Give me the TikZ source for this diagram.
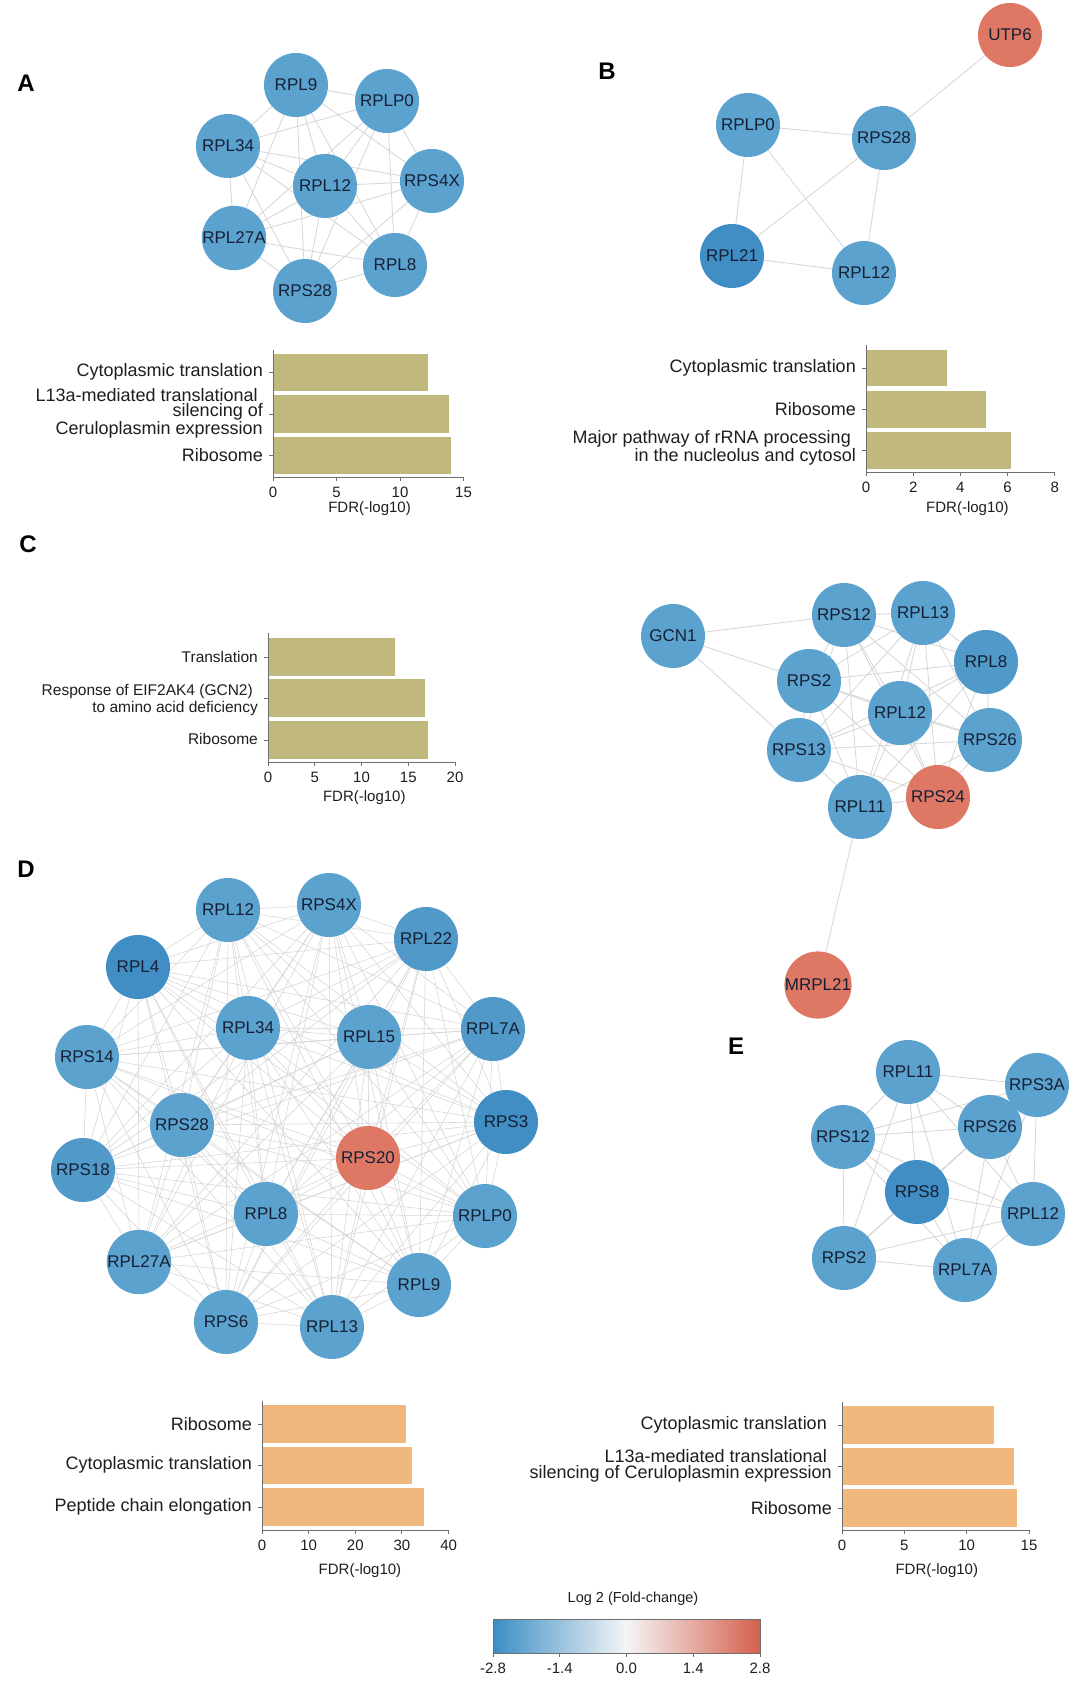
\documentclass[tikz,border=0pt]{standalone}
\usepackage{fontspec}
\setmainfont{Liberation Sans}
\usetikzlibrary{backgrounds}
\definecolor{geneblue}{RGB}{92,162,206}
\definecolor{genemid}{RGB}{80,153,201}
\definecolor{genedark}{RGB}{64,142,195}
\definecolor{genered}{RGB}{222,120,100}
\definecolor{genetext}{RGB}{22,32,52}
\definecolor{edgegray}{RGB}{214,214,214}
\definecolor{axisgray}{RGB}{110,110,110}
\definecolor{khaki}{RGB}{193,184,126}
\definecolor{peach}{RGB}{240,184,124}
\definecolor{cbblue}{RGB}{58,142,198}
\definecolor{cbred}{RGB}{214,96,77}
\definecolor{labgray}{RGB}{30,30,30}

\begin{document}
\begin{tikzpicture}[x=1pt, y=-1pt,
  gene/.style={circle, fill=geneblue, minimum size=64pt, inner sep=0pt, text=genetext, font=\fontsize{17}{17}\selectfont},
  mid/.style={fill=genemid}, dark/.style={fill=genedark}, up/.style={fill=genered},
  edge/.style={draw=edgegray, line width=0.8pt},
  thinedge/.style={draw=edgegray, line width=0.55pt},
  axis/.style={draw=axisgray, line width=1pt},
  lab/.style={font=\fontsize{18}{15.5}\selectfont, text=labgray, align=right, anchor=east, inner sep=0pt, xshift=-10pt},
  smalllab/.style={lab, font=\fontsize{15.5}{16.5}\selectfont},
  ticklab/.style={font=\fontsize{15}{15}\selectfont, text=labgray, inner sep=0pt},
  letter/.style={font=\fontsize{24}{24}\bfseries\selectfont}]

\begin{scope}[on background layer]
  \fill[white] (0,0) rectangle (1080,1689);
\end{scope}
\useasboundingbox (0,0) rectangle (1080,1689);

% panel letters
\node[letter] (lA) at (26,83) {A};
\node[letter] (lB) at (607,71) {B};
\node[letter] (lC) at (28,544) {C};
\node[letter] (lD) at (26,869) {D};
\node[letter] (lE) at (736,1046) {E};

% A network
\node[gene] (A1) at (296,85) {RPL9};
\node[gene] (A2) at (387,101) {RPLP0};
\node[gene] (A3) at (228,146) {RPL34};
\node[gene] (A4) at (325,186) {RPL12};
\node[gene] (A5) at (432,181) {RPS4X};
\node[gene] (A6) at (234,238) {RPL27A};
\node[gene] (A7) at (395,265) {RPL8};
\node[gene] (A8) at (305,291) {RPS28};
\begin{scope}[on background layer]
  \foreach \i [evaluate=\i as \k using int(\i+1)] in {1,...,7}
    \foreach \j in {\k,...,8}
      \draw[edge] (A\i) -- (A\j);
\end{scope}

% A bars
\begin{scope}[shift={(273,0)}, x=12.7pt]
  \fill[khaki] (0,354) rectangle (12.18,391);
  \fill[khaki] (0,395) rectangle (13.84,433);
  \fill[khaki] (0,437) rectangle (14.0,474);
  \draw[axis] (0,350) -- (0,477) -- (15,477);
  \foreach \t in {0,5,10,15}
    \draw[axis] (\t,477) -- (\t,481) node[ticklab, below=6pt] (ta\t) {\t};
  \foreach \y in {372,414,455}
    \draw[axis] (0,\y) -- ++(-4pt,0);
  \node[lab] (la1) at (0,372) {Cytoplasmic translation};
  \node[lab] (la2) at (0,413) {L13a-mediated translational\hspace*{5pt}\\silencing of\hspace*{5pt}\\Ceruloplasmin expression};
  \node[lab] (la3) at (0,455) {Ribosome};
  \node[ticklab] (fa) at (7.6,509) {FDR(-log10)};
\end{scope}

% B network
\node[gene, up] (B1) at (1010,35) {UTP6};
\node[gene] (B2) at (748,125) {RPLP0};
\node[gene] (B3) at (884,138) {RPS28};
\node[gene, dark] (B4) at (732,256) {RPL21};
\node[gene] (B5) at (864,273) {RPL12};
\begin{scope}[on background layer]
  \foreach \u/\v in {2/3,2/4,2/5,3/4,3/5,4/5,3/1}
    \draw[edge] (B\u) -- (B\v);
\end{scope}

% B bars
\begin{scope}[shift={(866,0)}, x=23.6pt]
  \fill[khaki] (0,350) rectangle (3.44,386);
  \fill[khaki] (0,391) rectangle (5.1,428);
  \fill[khaki] (0,432) rectangle (6.15,469);
  \draw[axis] (0,345) -- (0,472) -- (8,472);
  \foreach \t in {0,2,4,6,8}
    \draw[axis] (\t,472) -- (\t,476) node[ticklab, below=6pt] (tb\t) {\t};
  \foreach \y in {368,409,450}
    \draw[axis] (0,\y) -- ++(-4pt,0);
  \node[lab] (lb1) at (0,368) {Cytoplasmic translation};
  \node[lab] (lb2) at (0,409) {Ribosome};
  \node[lab] (lb3) at (0,448) {Major pathway of rRNA processing\hspace*{5pt}\\in the nucleolus and cytosol};
  \node[ticklab] (fb) at (4.3,509) {FDR(-log10)};
\end{scope}

% C bars
\begin{scope}[shift={(268,0)}, x=9.35pt]
  \fill[khaki] (0,638) rectangle (13.6,676);
  \fill[khaki] (0,679) rectangle (16.8,717);
  \fill[khaki] (0,721) rectangle (17.1,759);
  \draw[axis] (0,633) -- (0,762) -- (20,762);
  \foreach \t in {0,5,10,15,20}
    \draw[axis] (\t,762) -- (\t,766) node[ticklab, below=6pt] (tc\t) {\t};
  \foreach \y in {657,698,740}
    \draw[axis] (0,\y) -- ++(-4pt,0);
  \node[smalllab] (lc1) at (0,657) {Translation};
  \node[smalllab] (lc2) at (0,700) {Response of EIF2AK4 (GCN2)\hspace*{5pt}\\to amino acid deficiency};
  \node[smalllab] (lc3) at (0,739) {Ribosome};
  \node[ticklab] (fc) at (10.3,798) {FDR(-log10)};
\end{scope}

% C network
\node[gene] (C1) at (673,636) {GCN1};
\node[gene] (C2) at (844,615) {RPS12};
\node[gene] (C3) at (923,613) {RPL13};
\node[gene, mid] (C4) at (986,662) {RPL8};
\node[gene] (C5) at (809,681) {RPS2};
\node[gene] (C6) at (900,713) {RPL12};
\node[gene] (C7) at (990,740) {RPS26};
\node[gene] (C8) at (799,750) {RPS13};
\node[gene, up] (C9) at (938,797) {RPS24};
\node[gene] (C10) at (860,807) {RPL11};
\node[gene, up] (C11) at (818,985) {MRPL21};
\begin{scope}[on background layer]
  \foreach \i [evaluate=\i as \k using int(\i+1)] in {2,...,9}
    \foreach \j in {\k,...,10}
      \draw[edge] (C\i) -- (C\j);
  \foreach \u/\v in {1/2,1/5,1/8,10/11}
    \draw[edge] (C\u) -- (C\v);
\end{scope}

% D network
\node[gene] (D1) at (228,910) {RPL12};
\node[gene] (D2) at (329,905) {RPS4X};
\node[gene, mid] (D3) at (426,939) {RPL22};
\node[gene, dark] (D4) at (138,967) {RPL4};
\node[gene] (D5) at (248,1028) {RPL34};
\node[gene] (D6) at (369,1037) {RPL15};
\node[gene, mid] (D7) at (493,1029) {RPL7A};
\node[gene] (D8) at (87,1057) {RPS14};
\node[gene] (D9) at (182,1125) {RPS28};
\node[gene, dark] (D10) at (506,1122) {RPS3};
\node[gene, up] (D11) at (368,1158) {RPS20};
\node[gene, mid] (D12) at (83,1170) {RPS18};
\node[gene] (D13) at (266,1214) {RPL8};
\node[gene] (D14) at (485,1216) {RPLP0};
\node[gene] (D15) at (139,1262) {RPL27A};
\node[gene] (D16) at (419,1285) {RPL9};
\node[gene] (D17) at (226,1322) {RPS6};
\node[gene] (D18) at (332,1327) {RPL13};
\begin{scope}[on background layer]
  \foreach \i [evaluate=\i as \k using int(\i+1)] in {1,...,17}
    \foreach \j in {\k,...,18}
      \draw[thinedge] (D\i) -- (D\j);
\end{scope}

% E network
\node[gene] (E1) at (908,1072) {RPL11};
\node[gene] (E2) at (1037,1085) {RPS3A};
\node[gene] (E3) at (843,1137) {RPS12};
\node[gene] (E4) at (990,1127) {RPS26};
\node[gene, dark] (E5) at (917,1192) {RPS8};
\node[gene] (E6) at (1033,1214) {RPL12};
\node[gene] (E7) at (844,1258) {RPS2};
\node[gene] (E8) at (965,1270) {RPL7A};
\begin{scope}[on background layer]
  \foreach \i [evaluate=\i as \k using int(\i+1)] in {1,...,7}
    \foreach \j in {\k,...,8}
      \draw[edge] (E\i) -- (E\j);
\end{scope}

% D bars
\begin{scope}[shift={(262,0)}, x=4.665pt]
  \fill[peach] (0,1405) rectangle (30.95,1443);
  \fill[peach] (0,1447) rectangle (32.1,1484);
  \fill[peach] (0,1488) rectangle (34.8,1526);
  \draw[axis] (0,1401) -- (0,1530) -- (40,1530);
  \foreach \t in {0,10,20,30,40}
    \draw[axis] (\t,1530) -- (\t,1534) node[ticklab, below=6pt] (td\t) {\t};
  \foreach \y in {1424,1465,1507}
    \draw[axis] (0,\y) -- ++(-4pt,0);
  \node[lab] (ld1) at (0,1424) {Ribosome};
  \node[lab] (ld2) at (0,1465) {Cytoplasmic translation};
  \node[lab] (ld3) at (0,1507) {Peptide chain elongation};
  \node[ticklab] (fd) at (21,1571) {FDR(-log10)};
\end{scope}

% E bars
\begin{scope}[shift={(842,0)}, x=12.47pt]
  \fill[peach] (0,1406) rectangle (12.16,1444);
  \fill[peach] (0,1448) rectangle (13.83,1485);
  \fill[peach] (0,1489) rectangle (14.0,1527);
  \draw[axis] (0,1402) -- (0,1530) -- (15,1530);
  \foreach \t in {0,5,10,15}
    \draw[axis] (\t,1530) -- (\t,1534) node[ticklab, below=6pt] (te\t) {\t};
  \foreach \y in {1425,1466,1508}
    \draw[axis] (0,\y) -- ++(-4pt,0);
  \node[lab] (le1) at (0,1425) {Cytoplasmic translation\hspace*{5pt}};
  \node[lab] (le2) at (0,1466) {L13a-mediated translational\hspace*{5pt}\\silencing of Ceruloplasmin expression};
  \node[lab] (le3) at (0,1508) {Ribosome};
  \node[ticklab] (fe) at (7.6,1571) {FDR(-log10)};
\end{scope}

% colour scale
\node[ticklab, font=\fontsize{14.5}{14.5}\selectfont] (cbt) at (633,1599) {Log 2 (Fold-change)};
\node[draw=axisgray, line width=0.6pt, left color=cbblue, right color=cbred, middle color=white!96!black,
  minimum width=267pt, minimum height=34pt, inner sep=0pt] (cbar) at (626.5,1636) {};
\foreach \v [count=\n from 0] in {-2.8,-1.4,0.0,1.4,2.8}
  \draw[axis] (493+66.75*\n,1653) -- ++(0,4) node[ticklab, below=6pt] (cb\n) {\v};
\end{tikzpicture}
\end{document}
